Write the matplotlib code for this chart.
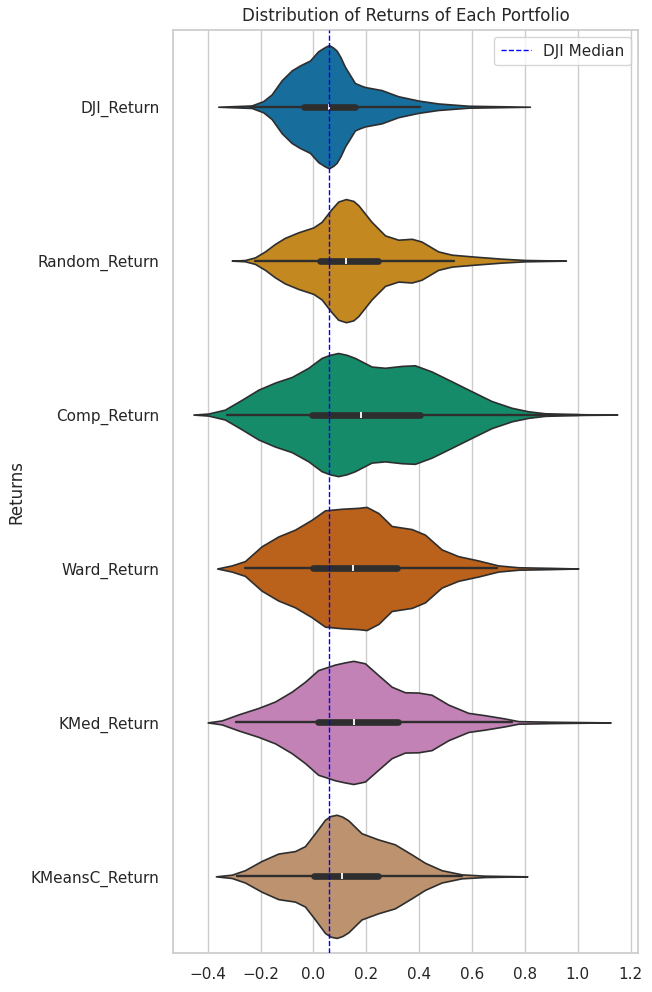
import matplotlib
matplotlib.use("Agg")
import matplotlib.pyplot as plt
import seaborn as sns

# ============================
# DATA
# ============================

portfolios = ["DJI_Return", "Random_Return", "Comp_Return",
              "Ward_Return", "KMed_Return", "KMeansC_Return"]

# violin outlines: return grid and relative half-width (peak = 1)
dji_x = [-0.360, -0.234, -0.190, -0.158, -0.120, -0.082, -0.051, -0.013, 0.018, 0.044, 0.059,
         0.075, 0.088, 0.103, 0.119, 0.157, 0.176, 0.195, 0.258, 0.321, 0.397, 0.472, 0.586, 0.819]
dji_w = [0.0, 0.02, 0.09, 0.20, 0.43, 0.59, 0.67, 0.75, 0.90, 0.97, 1.00,
         0.96, 0.91, 0.80, 0.65, 0.385, 0.35, 0.32, 0.27, 0.17, 0.10, 0.053, 0.016, 0.0]

random_x = [-0.309, -0.259, -0.221, -0.183, -0.146, -0.108, -0.057, 0.0, 0.031, 0.069, 0.094,
            0.123, 0.151, 0.170, 0.220, 0.271, 0.321, 0.372, 0.409, 0.472, 0.523, 0.611, 0.712,
            0.800, 0.955]
random_w = [0.0, 0.01, 0.053, 0.15, 0.27, 0.37, 0.46, 0.54, 0.63, 0.84, 0.96,
            1.0, 0.97, 0.90, 0.63, 0.41, 0.34, 0.355, 0.31, 0.15, 0.097, 0.065, 0.032,
            0.011, 0.0]

comp_x = [-0.454, -0.398, -0.335, -0.271, -0.208, -0.145, -0.082, -0.019, 0.031, 0.062, 0.094,
          0.126, 0.157, 0.220, 0.271, 0.334, 0.384, 0.447, 0.523, 0.598, 0.674, 0.750, 0.813,
          0.876, 0.958, 1.027, 1.149]
comp_w = [0.0, 0.016, 0.08, 0.24, 0.405, 0.52, 0.61, 0.76, 0.92, 0.97, 1.0,
          0.97, 0.92, 0.78, 0.76, 0.79, 0.80, 0.70, 0.54, 0.38, 0.22, 0.11, 0.053,
          0.021, 0.011, 0.005, 0.0]

ward_x = [-0.364, -0.309, -0.259, -0.196, -0.133, -0.070, -0.007, 0.044, 0.107, 0.170, 0.201,
          0.246, 0.296, 0.372, 0.422, 0.485, 0.548, 0.624, 0.699, 0.775, 0.901, 1.002]
ward_w = [0.0, 0.05, 0.12, 0.36, 0.52, 0.63, 0.79, 0.945, 0.97, 0.985, 1.0,
          0.90, 0.69, 0.64, 0.55, 0.31, 0.20, 0.13, 0.05, 0.02, 0.01, 0.0]

kmed_x = [-0.400, -0.347, -0.284, -0.208, -0.145, -0.082, -0.032, 0.018, 0.082, 0.119, 0.151,
          0.195, 0.245, 0.296, 0.346, 0.397, 0.447, 0.510, 0.586, 0.649, 0.724, 0.775, 0.901,
          1.124]
kmed_w = [0.0, 0.032, 0.13, 0.235, 0.34, 0.50, 0.66, 0.85, 0.94, 0.975, 1.0,
          0.96, 0.77, 0.58, 0.49, 0.485, 0.45, 0.29, 0.155, 0.117, 0.064, 0.021, 0.011,
          0.0]

kmeansc_x = [-0.369, -0.309, -0.259, -0.196, -0.133, -0.070, -0.032, 0.006, 0.044, 0.065,
             0.088, 0.109, 0.132, 0.182, 0.245, 0.308, 0.372, 0.422, 0.485, 0.561, 0.649, 0.809]
kmeansc_w = [0.0, 0.027, 0.10, 0.25, 0.37, 0.41, 0.49, 0.70, 0.92, 0.98,
             1.0, 0.97, 0.91, 0.70, 0.60, 0.52, 0.355, 0.22, 0.10, 0.032, 0.011, 0.0]

# inner box stats
whisker_lo = [-0.240, -0.221, -0.328, -0.259, -0.294, -0.290]
q1 = [-0.035, 0.025, -0.006, -0.003, 0.018, 0.003]
medians = [0.059, 0.123, 0.179, 0.148, 0.155, 0.107]
q3 = [0.157, 0.243, 0.403, 0.315, 0.321, 0.243]
whisker_hi = [0.403, 0.533, 1.000, 0.693, 0.750, 0.561]

dji_median = 0.059

outlines_x = [dji_x, random_x, comp_x, ward_x, kmed_x, kmeansc_x]
outlines_w = [dji_w, random_w, comp_w, ward_w, kmed_w, kmeansc_w]

# ============================
# PLOT CHART
# ============================

sns.set_theme(style="whitegrid")
colors = [sns.desaturate(c, 0.75) for c in sns.color_palette("colorblind", 6)]
edge = "#2e2e2e"

fig, ax = plt.subplots(figsize=(6.52, 9.92), dpi=100)
fig.subplots_adjust(left=0.265, right=0.979, bottom=0.039, top=0.970)

for i, name in enumerate(portfolios):
    xs = outlines_x[i]
    half = [0.4 * w for w in outlines_w[i]]
    body = ax.fill_between(xs, [i - h for h in half], [i + h for h in half],
                           facecolor=colors[i], edgecolor=edge, linewidth=1.2, zorder=2)
    body.set_joinstyle("round")
    ax.plot([whisker_lo[i], whisker_hi[i]], [i, i], color=edge, lw=1.7,
            solid_capstyle="round", zorder=2.5)
    ax.plot([q1[i], q3[i]], [i, i], color=edge, lw=4.8,
            solid_capstyle="round", zorder=2.6)
    ax.plot([medians[i]], [i], marker="|", color="white", ms=5, mew=1.3,
            zorder=2.7)

ax.axvline(dji_median, color="blue", linestyle="--", linewidth=1,
           label="DJI Median", zorder=3)

ax.set_yticks(range(len(portfolios)))
ax.set_yticklabels(portfolios)
ax.set_ylim(5.5, -0.5)
ax.set_xlim(-0.532, 1.229)
ax.set_xticks([-0.4, -0.2, 0.0, 0.2, 0.4, 0.6, 0.8, 1.0, 1.2])
ax.grid(False, axis="y")
ax.set_ylabel("Returns")
ax.set_title("Distribution of Returns of Each Portfolio")
ax.legend(loc="upper right")

plt.savefig("out.png", dpi=100)
